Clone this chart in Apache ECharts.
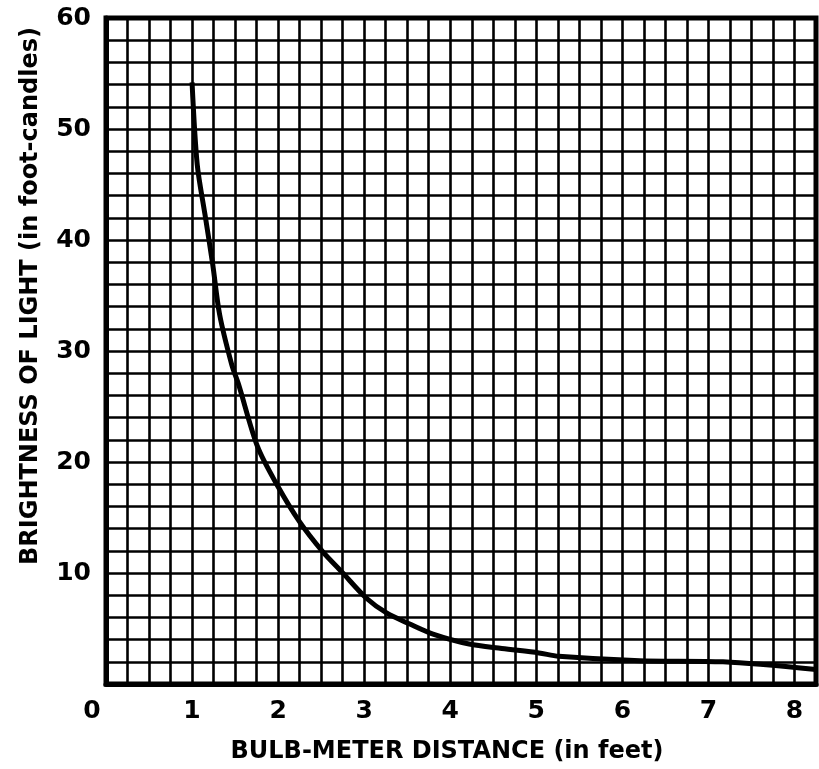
<!DOCTYPE html>
<html>
<head>
<meta charset="utf-8">
<script src="https://cdn.jsdelivr.net/npm/echarts@6/dist/echarts.min.js"></script>
<style>html,body{margin:0;padding:0;background:#fff;}#c{width:819px;height:769px;}</style>
</head>
<body>
<div id="c"></div>
<script>
const distanceFeet = [1.0, 1.06, 1.15, 1.24, 1.32, 1.46, 1.54, 1.76, 1.99, 2.25, 2.52, 2.74, 3.03, 3.26, 3.53, 3.8, 4.22, 4.6, 5.03, 5.26, 6.2, 7.17, 8.25];
const brightness   = [54.2, 46.8, 42.3, 37.8, 33.3, 28.8, 27.0, 21.4, 17.9, 14.6, 11.9, 10.1, 7.7, 6.4, 5.4, 4.5, 3.6, 3.2, 2.8, 2.5, 2.1, 2.0, 1.3];
const xTickLabels = ['0','1','2','3','4','5','6','7','8'];
const yTickLabels = ['10','20','30','40','50','60'];
const xTitle = 'BULB-METER DISTANCE (in feet)';
const yTitle = 'BRIGHTNESS OF LIGHT (in foot-candles)';

const chart = echarts.init(document.getElementById('c'), null, {renderer: 'canvas'});
const pts = distanceFeet.map((d, i) => [d, brightness[i]]);
chart.setOption({
  animation: false,
  backgroundColor: '#fff',
  grid: {left: 106, right: 2, top: 18, bottom: 81, show: true, borderColor: '#000', borderWidth: 5},
  xAxis: {
    type: 'value', min: 0, max: 8.25, interval: 0.25,
    name: xTitle, nameLocation: 'middle', nameGap: 56,
    nameTextStyle: {color: '#000', fontSize: 24, fontWeight: 'bold', fontFamily: 'DejaVu Sans', padding: [0, 28, 0, 0]},
    axisLine: {show: true, lineStyle: {color: '#000', width: 5}},
    axisTick: {show: false},
    splitLine: {show: true, lineStyle: {color: '#000', width: 2.6}},
    axisLabel: {
      margin: 15, color: '#000', fontSize: 25, fontWeight: 'bold', fontFamily: 'DejaVu Sans',
      showMaxLabel: true,
      formatter: v => {
        const s = String(v);
        if (!xTickLabels.includes(s)) return '';
        return s === '0' ? '{z|0}' : s;
      },
      rich: {z: {fontSize: 25, fontWeight: 'bold', fontFamily: 'DejaVu Sans', color: '#000', padding: [0, 28, 0, 0]}}
    }
  },
  yAxis: {
    type: 'value', min: 0, max: 60, interval: 2,
    name: yTitle, nameLocation: 'middle', nameGap: 63,
    nameTextStyle: {color: '#000', fontSize: 24, fontWeight: 'bold', fontFamily: 'DejaVu Sans', padding: [0, 0, 0, 110]},
    axisLine: {show: true, lineStyle: {color: '#000', width: 5}},
    axisTick: {show: false},
    splitLine: {show: true, lineStyle: {color: '#000', width: 2.6}},
    axisLabel: {
      margin: 15, color: '#000', fontSize: 25, fontWeight: 'bold', fontFamily: 'DejaVu Sans',
      formatter: v => yTickLabels.includes(String(v)) ? String(v) : ''
    }
  },
  series: [{
    type: 'line', data: pts, smooth: 0.3, showSymbol: false,
    lineStyle: {color: '#000', width: 5}, z: 5
  }]
});
</script>
</body>
</html>
